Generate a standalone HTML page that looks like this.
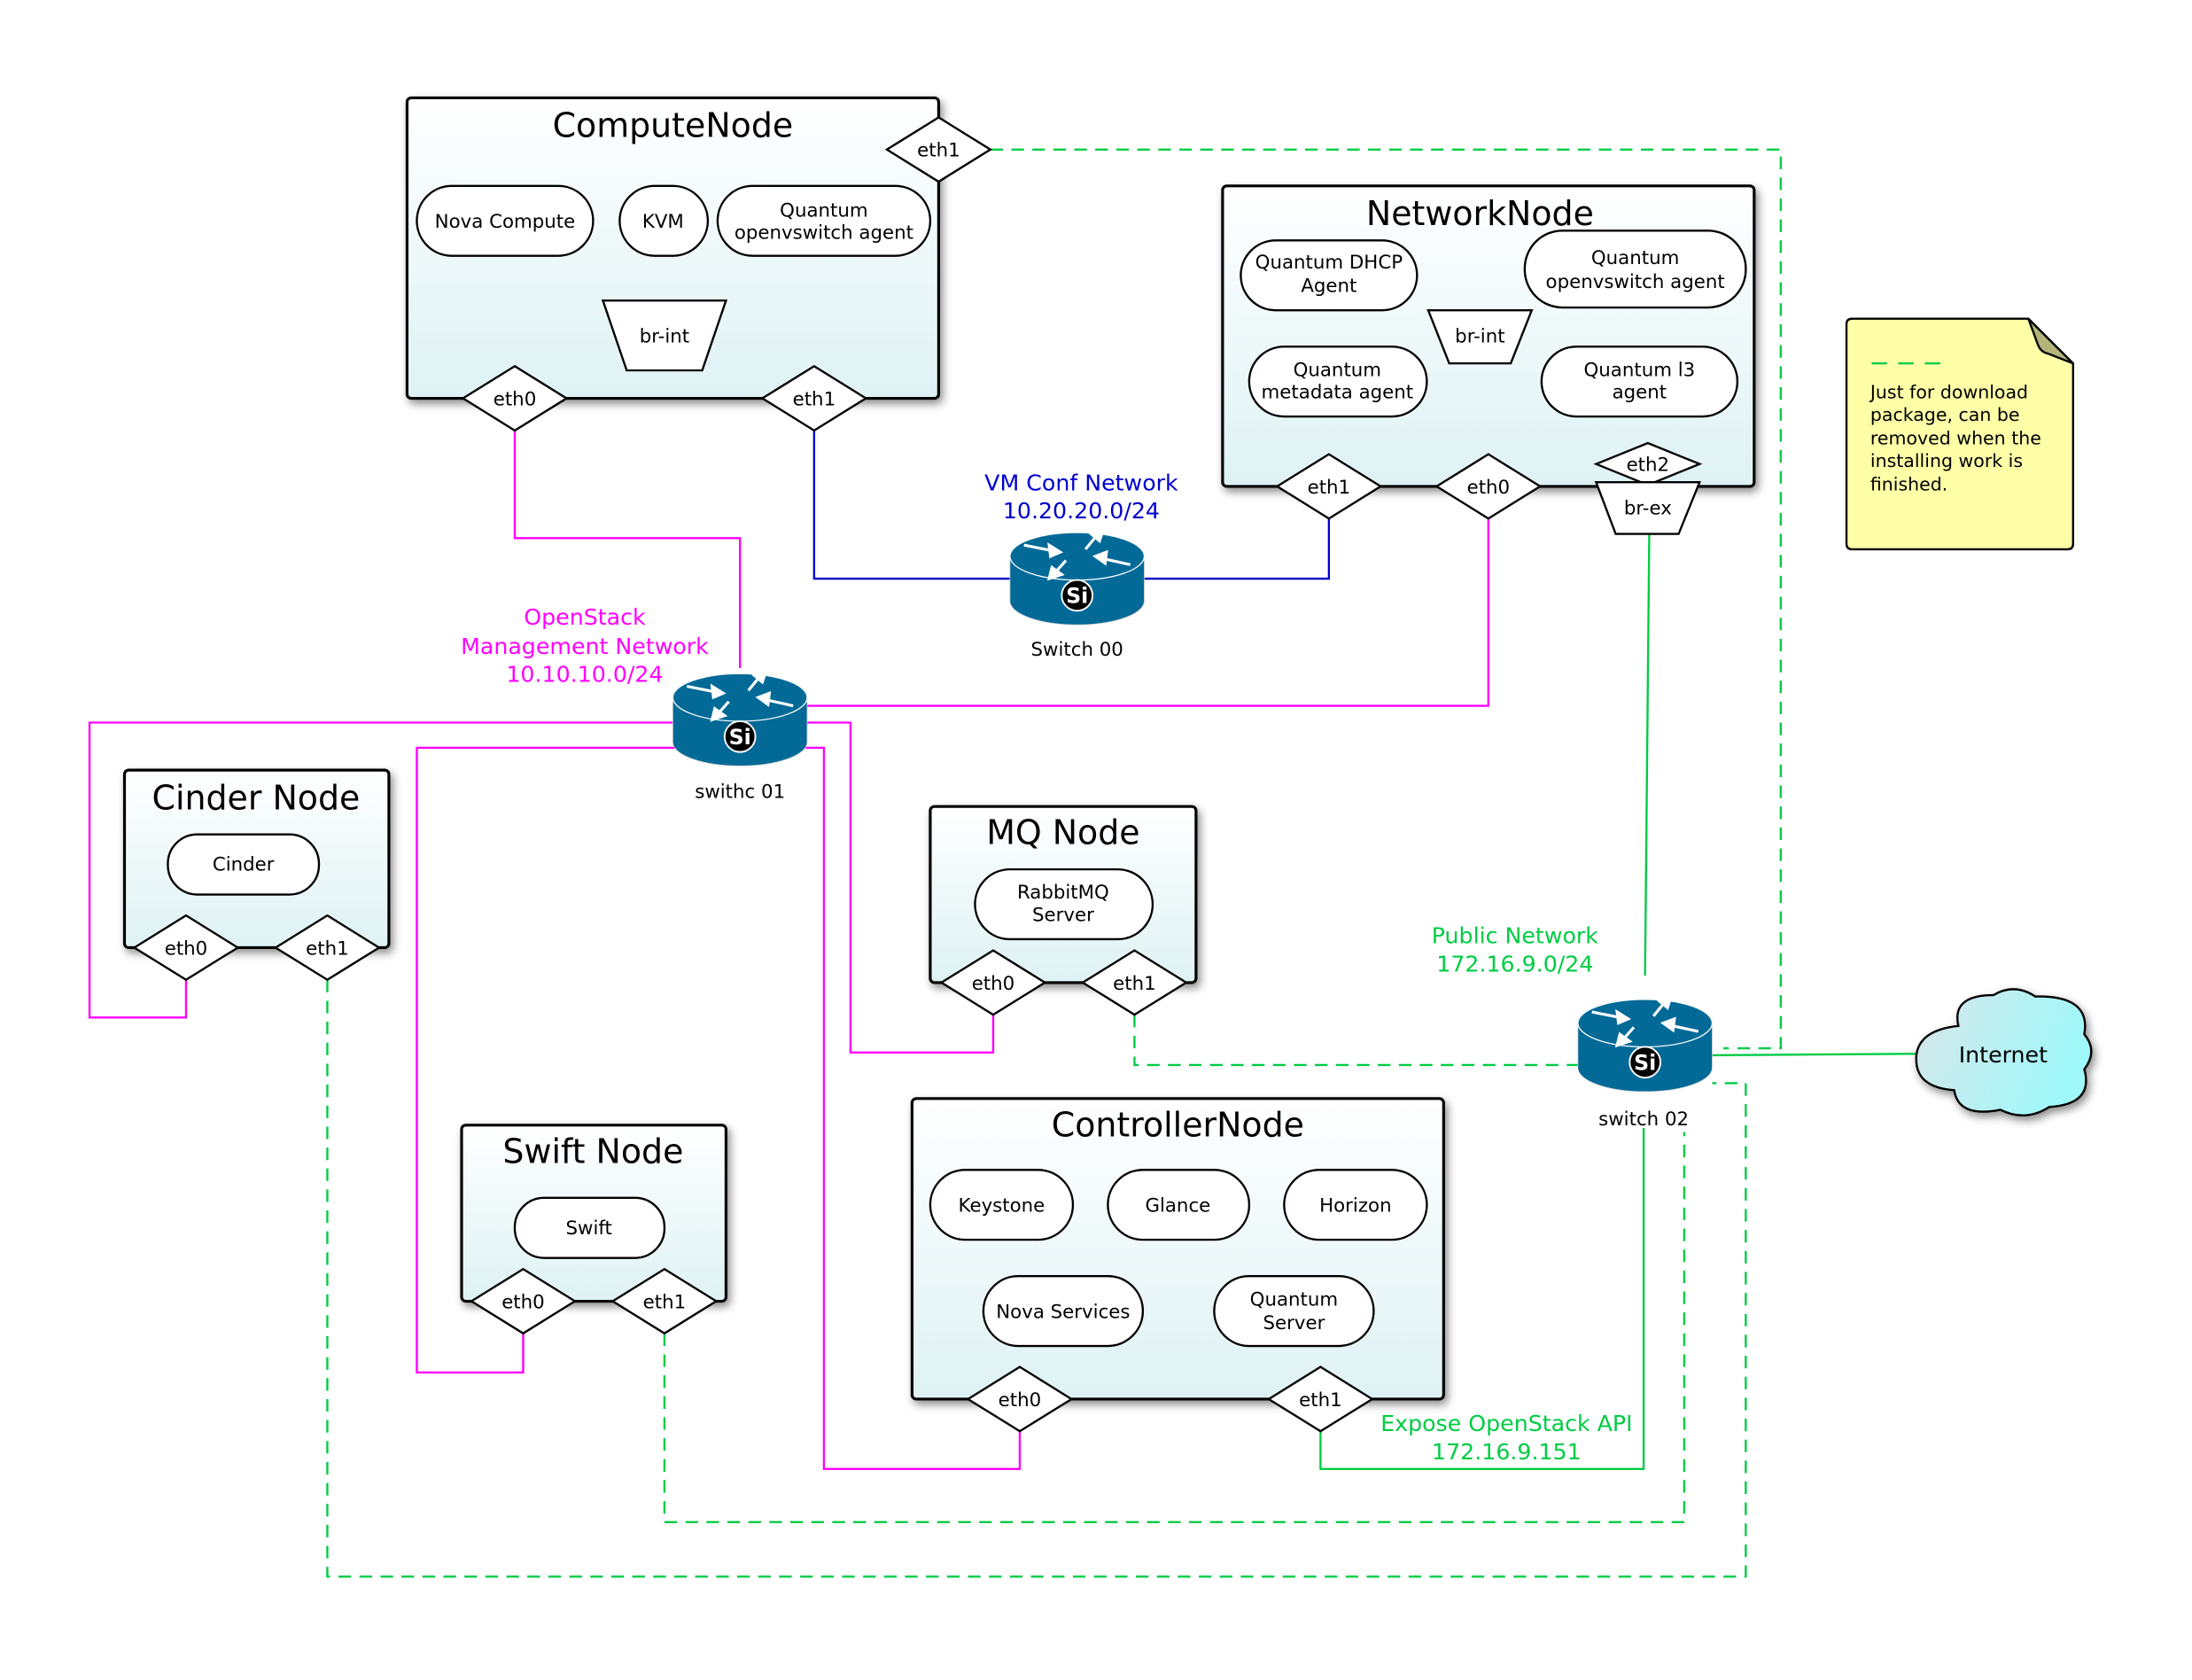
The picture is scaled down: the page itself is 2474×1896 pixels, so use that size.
<!DOCTYPE html>
<html><head><meta charset="utf-8"><style>
html,body{margin:0;padding:0;background:#fff}
svg{display:block}
text{font-family:"DejaVu Sans","Liberation Sans",sans-serif}
</style></head><body>
<svg width="2474" height="1896" viewBox="0 0 1567 1202" preserveAspectRatio="none" xmlns="http://www.w3.org/2000/svg">
<defs>
<linearGradient id="ng" x1="0" y1="0" x2="0" y2="1"><stop offset="0" stop-color="#ffffff"/><stop offset="1" stop-color="#def2f4"/></linearGradient>
<linearGradient id="cg" x1="0" y1="0" x2="1" y2="0.3"><stop offset="0" stop-color="#d8e6e8"/><stop offset="1" stop-color="#9ff8fa"/></linearGradient>
<filter id="sh" x="-10%" y="-10%" width="130%" height="130%"><feDropShadow dx="2" dy="3" stdDeviation="3" flood-color="#000" flood-opacity="0.45"/></filter>
<g id="rt">
<path d="M-48,0 L-48,32 A48,17 0 0 0 48,32 L48,0 Z" fill="#036a98" stroke="#ccc" stroke-width="0.5"/>
<ellipse cx="0" cy="0" rx="48" ry="17" fill="#036a98" stroke="#fff" stroke-width="0.8"/>
<g stroke="#fff" stroke-width="2" fill="#fff">
<line x1="-38" y1="-8" x2="-18" y2="-4"/><polygon points="-12,-3 -20,-8 -19,0"/>
<line x1="6" y1="-5" x2="15" y2="-16"/><polygon points="19,-20 10,-16 16,-11"/>
<line x1="38" y1="6" x2="20" y2="2"/><polygon points="13,0 21,-3 20,5"/>
<line x1="-8" y1="3" x2="-16" y2="12"/><polygon points="-20,16 -18,8 -11,13"/>
</g>
<circle cx="0" cy="28" r="11" fill="#000" stroke="#fff" stroke-width="1.2"/>
<text x="0" y="33.5" font-size="15" font-weight="bold" fill="#fff" text-anchor="middle">Si</text>
</g>
</defs>

<g fill="none" stroke-width="1.5">
<g stroke="#ff00ff">
<polyline points="368,308 368,385 529,385 529,478"/>
<polyline points="484,517 64,517 64,728 133,728 133,701"/>
<polyline points="484,535 298,535 298,982 374,982 374,954"/>
<polyline points="576,517 608,517 608,753 710,753 710,726"/>
<polyline points="576,535 589,535 589,1051 729,1051 729,1024"/>
<polyline points="576,505 1064,505 1064,371"/>
</g>
<g stroke="#0000cc">
<polyline points="582,308 582,414 722,414"/>
<polyline points="818,414 950,414 950,371"/>
</g>
<g stroke="#00cc44">
<polyline points="1179,382 1176,698"/>
<polyline points="1224,755 1370,754"/>
<polyline points="944,1024 944,1051 1175,1051 1175,807"/>
</g>
<g stroke="#00cc44" stroke-dasharray="9,6">
<polyline points="708,107 1273,107 1273,750 1232,750"/>
<polyline points="811,726 811,762 1128,762"/>
<polyline points="234,701 234,1128 1248,1128 1248,775 1224,775"/>
<polyline points="475,954 475,1089 1204,1089 1204,810"/>
</g>
</g>

<g stroke="#000" stroke-width="2">
<rect x="291" y="70" width="380" height="215" rx="3" fill="url(#ng)" filter="url(#sh)"/>
<rect x="874" y="133" width="380" height="215" rx="3" fill="url(#ng)" filter="url(#sh)"/>
<rect x="89" y="551" width="189" height="127" rx="3" fill="url(#ng)" filter="url(#sh)"/>
<rect x="665" y="577" width="190" height="126" rx="3" fill="url(#ng)" filter="url(#sh)"/>
<rect x="330" y="805" width="189" height="126" rx="3" fill="url(#ng)" filter="url(#sh)"/>
<rect x="652" y="786" width="380" height="215" rx="3" fill="url(#ng)" filter="url(#sh)"/>
</g>
<g font-size="24" text-anchor="middle" fill="#000">
<text x="481" y="98">ComputeNode</text>
<text x="1058" y="161">NetworkNode</text>
<text x="183" y="579">Cinder Node</text>
<text x="760" y="604">MQ Node</text>
<text x="424" y="832">Swift Node</text>
<text x="842" y="813">ControllerNode</text>
</g>

<g fill="#fff" stroke="#000" stroke-width="1.5">
<rect x="298" y="133" width="126" height="50" rx="25"/>
<rect x="443" y="133" width="63" height="50" rx="25"/>
<rect x="513" y="133" width="152" height="50" rx="25"/>
<rect x="887" y="172" width="126" height="50" rx="25"/>
<rect x="1090" y="165" width="158" height="55" rx="27"/>
<rect x="893" y="248" width="127" height="50" rx="25"/>
<rect x="1102" y="248" width="140" height="50" rx="25"/>
<rect x="120" y="597" width="108" height="43" rx="21"/>
<rect x="697" y="622" width="127" height="50" rx="25"/>
<rect x="368" y="857" width="107" height="43" rx="21"/>
<rect x="665" y="837" width="102" height="50" rx="25"/>
<rect x="792" y="837" width="101" height="50" rx="25"/>
<rect x="918" y="837" width="102" height="50" rx="25"/>
<rect x="703" y="913" width="114" height="50" rx="25"/>
<rect x="868" y="913" width="114" height="50" rx="25"/>
<polygon points="431,215 519,215 502,265 448,265"/>
<polygon points="1021,222 1095,222 1080,260 1036,260"/>
</g>
<g font-size="13.5" text-anchor="middle" fill="#000">
<text x="361" y="163">Nova Compute</text>
<text x="474" y="163">KVM</text>
<text x="589" y="155">Quantum</text><text x="589" y="171">openvswitch agent</text>
<text x="475" y="245">br-int</text>
<text x="950" y="192">Quantum DHCP</text><text x="950" y="209">Agent</text>
<text x="1169" y="189">Quantum</text><text x="1169" y="206">openvswitch agent</text>
<text x="956" y="269">Quantum</text><text x="956" y="285">metadata agent</text>
<text x="1172" y="269">Quantum l3</text><text x="1172" y="285">agent</text>
<text x="1058" y="245">br-int</text>
<text x="174" y="623">Cinder</text>
<text x="760" y="643">RabbitMQ</text><text x="760" y="659">Server</text>
<text x="421" y="883">Swift</text>
<text x="716" y="867">Keystone</text>
<text x="842" y="867">Glance</text>
<text x="969" y="867">Horizon</text>
<text x="760" y="943">Nova Services</text>
<text x="925" y="934">Quantum</text><text x="925" y="951">Server</text>
</g>

<g fill="#fff" stroke="#000" stroke-width="1.5">
<polygon points="634,107 671,84 708,107 671,130"/>
<polygon points="331,285 368,262 405,285 368,308"/>
<polygon points="545,285 582,262 619,285 582,308"/>
<polygon points="913,348 950,325 987,348 950,371"/>
<polygon points="1027,348 1064,325 1101,348 1064,371"/>
<polygon points="1141,332 1178,317 1215,332 1178,347"/>
<polygon points="1141,345 1215,345 1200,382 1155,382"/>
<polygon points="96,678 133,655 170,678 133,701"/>
<polygon points="197,678 234,655 271,678 234,701"/>
<polygon points="673,703 710,680 747,703 710,726"/>
<polygon points="774,703 811,680 848,703 811,726"/>
<polygon points="337,931 374,908 411,931 374,954"/>
<polygon points="438,931 475,908 512,931 475,954"/>
<polygon points="692,1001 729,978 766,1001 729,1024"/>
<polygon points="907,1001 944,978 981,1001 944,1024"/>
</g>
<g font-size="13.5" text-anchor="middle" fill="#000">
<text x="671" y="112">eth1</text>
<text x="368" y="290">eth0</text>
<text x="582" y="290">eth1</text>
<text x="950" y="353">eth1</text>
<text x="1064" y="353">eth0</text>
<text x="1178" y="337">eth2</text>
<text x="1178" y="368">br-ex</text>
<text x="133" y="683">eth0</text>
<text x="234" y="683">eth1</text>
<text x="710" y="708">eth0</text>
<text x="811" y="708">eth1</text>
<text x="374" y="936">eth0</text>
<text x="475" y="936">eth1</text>
<text x="729" y="1006">eth0</text>
<text x="944" y="1006">eth1</text>
</g>

<use href="#rt" x="770" y="398"/>
<use href="#rt" x="529" y="499"/>
<use href="#rt" x="1176" y="732"/>
<g font-size="13.5" text-anchor="middle" fill="#000">
<text x="770" y="469">Switch 00</text>
<text x="529" y="571">swithc 01</text>
<text x="1175" y="805">switch 02</text>
</g>

<g font-size="16" text-anchor="middle">
<text x="773" y="351" fill="#0000cc">VM Conf Network</text>
<text x="773" y="371" fill="#0000cc">10.20.20.0/24</text>
<text x="418" y="447" fill="#ff00ff">OpenStack</text>
<text x="418" y="468" fill="#ff00ff">Management Network</text>
<text x="418" y="488" fill="#ff00ff">10.10.10.0/24</text>
<text x="1083" y="675" fill="#00cc44">Public Network</text>
<text x="1083" y="695" fill="#00cc44">172.16.9.0/24</text>
<text x="1077" y="1024" fill="#00cc44">Expose OpenStack API</text>
<text x="1077" y="1044" fill="#00cc44">172.16.9.151</text>
</g>

<path d="M1324,228 L1450,228 L1482,260 L1482,389 Q1482,393 1478,393 L1324,393 Q1320,393 1320,389 L1320,232 Q1320,228 1324,228 Z" fill="#ffffa8" stroke="#000" stroke-width="1.5"/>
<path d="M1450,228 L1457,247 Q1459,252 1464,253 L1482,260 Z" fill="#b3b37a" stroke="#000" stroke-width="1.5"/>
<line x1="1338" y1="260" x2="1391" y2="260" stroke="#00cc44" stroke-width="1.5" stroke-dasharray="11,8"/>
<g font-size="13" fill="#000">
<text x="1337" y="285">Just for download</text>
<text x="1337" y="301">package, can be</text>
<text x="1337" y="318">removed when the</text>
<text x="1337" y="334">installing work is</text>
<text x="1337" y="351">finished.</text>
</g>

<path d="M1400,734 Q1395,712 1425,712 Q1440,703 1455,713 Q1495,712 1490,740 Q1500,752 1490,765 Q1497,790 1465,792 Q1448,803 1430,794 Q1400,800 1397,780 Q1368,778 1370,755 Q1372,737 1400,734 Z" fill="url(#cg)" stroke="#000" stroke-width="1.5" filter="url(#sh)"/>
<text x="1432" y="760" font-size="16" text-anchor="middle" fill="#000">Internet</text>
</svg>
</body></html>
